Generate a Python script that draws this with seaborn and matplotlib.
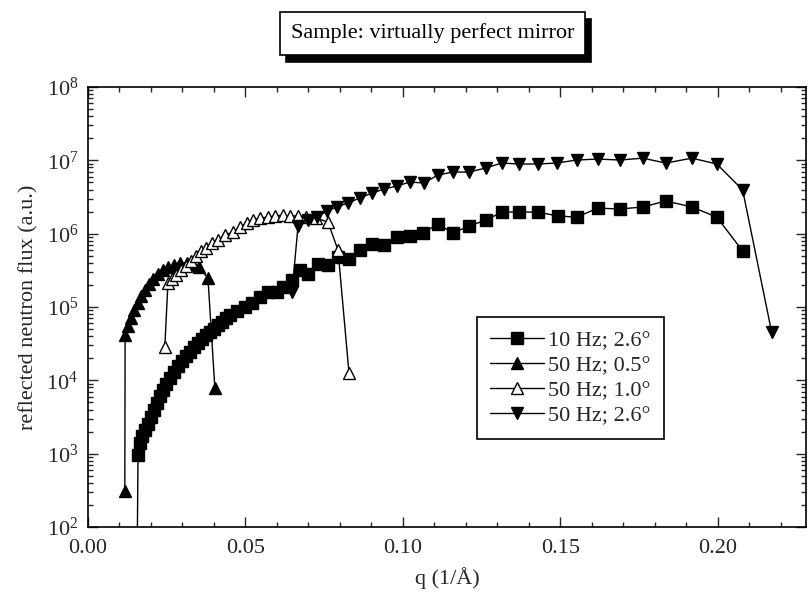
import numpy as np
import seaborn as sns
import matplotlib
matplotlib.use("Agg")
import matplotlib.pyplot as plt
from matplotlib import ticker, transforms

# values: q in 1/Å, reflected flux in a.u.
q_10hz_26 = [0.0155, 0.0159, 0.0165, 0.0171, 0.0181, 0.0190, 0.0200, 0.0210, 0.0219, 0.0229,
             0.0238, 0.0248, 0.0260, 0.0273, 0.0286, 0.0298, 0.0311, 0.0324, 0.0337, 0.0349,
             0.0362, 0.0375, 0.0387, 0.0400, 0.0413, 0.0425, 0.0438, 0.0451, 0.0473, 0.0498,
             0.0521, 0.0546, 0.0571, 0.0600, 0.0619, 0.0648, 0.0673, 0.0698, 0.0730, 0.0762,
             0.0794, 0.0829, 0.0863, 0.0902, 0.0940, 0.0981, 0.1022, 0.1064, 0.1111, 0.1159,
             0.1210, 0.1264, 0.1314, 0.1368, 0.1429, 0.1492, 0.1552, 0.1619, 0.1689, 0.1762,
             0.1835, 0.1918, 0.1997, 0.2079]
flux_10hz_26 = [10, 955, 1390, 1730, 2090, 2520, 3150, 3920, 4880, 6080,
                7350, 8870, 10700, 12900, 15600, 18300, 21400, 24200, 28400, 32200,
                36500, 41400, 45500, 50000, 56700, 62200, 70600, 77500, 87900, 99700,
                113000, 136000, 160000, 160000, 187000, 233000, 318000, 281000, 385000, 373000,
                480000, 451000, 597000, 721000, 700000, 900000, 928000, 1.02e6, 1.35e6, 1.02e6,
                1.27e6, 1.53e6, 1.97e6, 1.97e6, 1.97e6, 1.74e6, 1.68e6, 2.23e6, 2.17e6, 2.31e6,
                2.79e6, 2.31e6, 1.68e6, 5.8e5]

q_50hz_05 = [0.0117, 0.0118, 0.0128, 0.0136, 0.0146, 0.0158, 0.0170, 0.0182, 0.0194, 0.0206,
             0.0222, 0.0238, 0.0254, 0.0273, 0.0292, 0.0314, 0.0333, 0.0352, 0.0381, 0.0403]
flux_50hz_05 = [308, 41000, 55000, 70000, 90000, 115000, 140000, 168000, 205000, 240000,
                281000, 318000, 350000, 373000, 397000, 397000, 373000, 350000, 248000, 7830]

q_50hz_10 = [0.0244, 0.0254, 0.0267, 0.0279, 0.0295, 0.0311, 0.0327, 0.0343, 0.0359, 0.0375,
             0.0394, 0.0413, 0.0435, 0.0460, 0.0483, 0.0505, 0.0524, 0.0546, 0.0571, 0.0594,
             0.0619, 0.0641, 0.0667, 0.0692, 0.0724, 0.0762, 0.0794, 0.0829]
flux_50hz_10 = [28400, 212000, 240000, 272000, 318000, 361000, 423000, 494000, 578000, 637000,
                745000, 818000, 957000, 1.05e6, 1.23e6, 1.40e6, 1.53e6, 1.63e6, 1.68e6, 1.74e6,
                1.79e6, 1.74e6, 1.74e6, 1.68e6, 1.63e6, 1.44e6, 597000, 12500]

q_50hz_26 = [0.0648, 0.0667, 0.0698, 0.0727, 0.0759, 0.0790, 0.0825, 0.0863, 0.0902, 0.0940,
             0.0981, 0.1022, 0.1067, 0.1111, 0.1159, 0.1210, 0.1263, 0.1314, 0.1368, 0.1429,
             0.1489, 0.1552, 0.1619, 0.1689, 0.1762, 0.1835, 0.1918, 0.1997, 0.2079, 0.2171]
flux_50hz_26 = [160000, 1.27e6, 1.53e6, 1.68e6, 2.03e6, 2.31e6, 2.61e6, 3.06e6, 3.58e6, 4.06e6,
                4.46e6, 5.06e6, 4.90e6, 6.30e6, 6.92e6, 6.92e6, 7.85e6, 9.18e6, 8.91e6, 8.91e6,
                9.18e6, 1.01e7, 1.04e7, 1.01e7, 1.07e7, 9.18e6, 1.07e7, 8.91e6, 3.94e6, 45500]

labels = ["10 Hz; 2.6°", "50 Hz; 0.5°", "50 Hz; 1.0°", "50 Hz; 2.6°"]

sns.set_style("ticks")
plt.rcParams["font.family"] = ["Liberation Serif", "DejaVu Serif"]
plt.rcParams["mathtext.fontset"] = "custom"
plt.rcParams["mathtext.rm"] = "Liberation Serif"
plt.rcParams["mathtext.it"] = "Liberation Serif:italic"

fig = plt.figure(figsize=(8.1, 5.95), dpi=100)
ax = fig.add_axes([0.1086, 0.1143, 0.8864, 0.7395])
ax.set_yscale("log")

series = [
    (q_10hz_26, flux_10hz_26, "s", "black", 8),
    (q_50hz_05, flux_50hz_05, "^", "black", 9),
    (q_50hz_10, flux_50hz_10, "^", "white", 9),
    (q_50hz_26, flux_50hz_26, "v", "black", 9),
]
for label, (q, f, m, fc, ms) in zip(labels, series):
    sns.lineplot(x=q, y=f, ax=ax, label=label, color="black", lw=1.0,
                 marker=m, markersize=ms, markerfacecolor=fc,
                 markeredgecolor="black", markeredgewidth=1.0,
                 estimator=None, sort=False)

ax.set_xlim(0, 0.228)
ax.set_ylim(1e2, 1e8)
ax.xaxis.set_major_locator(ticker.MultipleLocator(0.05))
ax.xaxis.set_minor_locator(ticker.MultipleLocator(0.01))
ax.xaxis.set_major_formatter(ticker.FormatStrFormatter("%.2f"))
ax.yaxis.set_major_locator(ticker.LogLocator(base=10, numticks=20))
ax.yaxis.set_minor_locator(ticker.LogLocator(base=10, subs=np.arange(2, 10), numticks=100))
ax.yaxis.set_minor_formatter(ticker.NullFormatter())
ax.tick_params(which="both", direction="in", top=True, right=True, width=1.0, labelsize=16)
ax.tick_params(which="major", length=7, pad=7)
ax.tick_params(axis="x", which="major", pad=9)
ax.tick_params(which="minor", length=3.5)
for s in ax.spines.values():
    s.set_linewidth(1.2)
    s.set_color("black")

ax.set_xlabel("q (1/Å)", fontsize=16, labelpad=6)
ax.set_ylabel("reflected neutron flux (a.u.)", fontsize=16, labelpad=6)

leg = ax.legend(loc="upper left", bbox_to_anchor=(0.542, 0.477), frameon=True,
                fancybox=False, edgecolor="black", framealpha=1, fontsize=16,
                handlelength=2.4, handletextpad=0.2, labelspacing=0.2,
                borderpad=0.6, borderaxespad=0)
leg.get_frame().set_linewidth(1.2)

# title box with a drop shadow
title = "Sample: virtually perfect mirror"
shadow_tr = transforms.offset_copy(fig.transFigure, fig=fig, x=6, y=-7, units="dots")
fig.text(0.534, 0.9437, title, ha="center", va="center", fontsize=16, color="black",
         transform=shadow_tr,
         bbox=dict(boxstyle="square,pad=0.5", fc="black", ec="black", lw=1.2))
fig.text(0.534, 0.9437, title, ha="center", va="center", fontsize=16, color="black",
         bbox=dict(boxstyle="square,pad=0.5", fc="white", ec="black", lw=1.2))

fig.savefig("out.png", dpi=100)
